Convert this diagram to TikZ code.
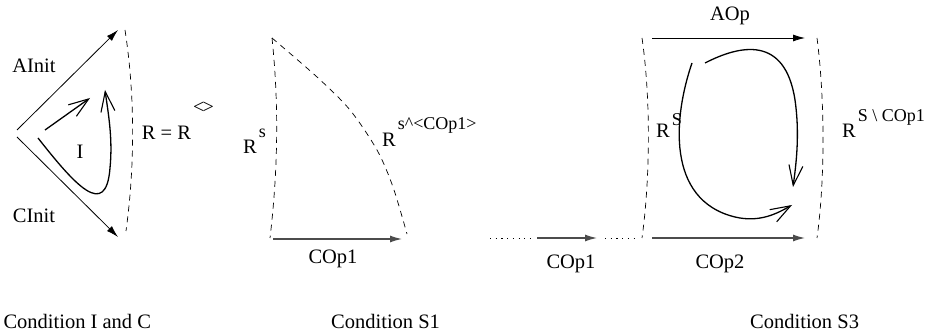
\documentclass[tikz,border=0pt]{standalone}
\usepackage{fontspec}
\setmainfont{Liberation Serif}
\usetikzlibrary{arrows.meta}
\newcommand\supr[2][16pt]{\kern2pt\raisebox{#1}{\fontsize{18}{18}\selectfont #2}}
\begin{document}
\begin{tikzpicture}[x=1pt,y=-1pt,
  every node/.style={font=\fontsize{20.5}{24}\selectfont, inner sep=0pt},
  lab/.style={anchor=base west},
  thinarrow/.style={line width=0.8pt, -{Latex[length=12pt,width=7pt]}},
  greyarrow/.style={line width=1.2pt, draw=black!70, -{Latex[length=12pt,width=7pt]}},
  border/.style={dash pattern=on 6pt off 5pt, line width=0.7pt},
  dotline/.style={line width=0.8pt, dash pattern=on 1.2pt off 4.5pt},
  loopline/.style={line width=1.3pt, -{Straight Barb[length=20pt,width=14pt,line width=1.1pt]}}]
\useasboundingbox (0,0) rectangle (933,336);

% ---------- Condition I and C ----------
\coordinate (ai0) at (17,130);
\coordinate (ai1) at (118,30);
\coordinate (ci0) at (17,137);
\coordinate (ci1) at (118,237);
\draw[thinarrow] (ai0) -- (ai1);
\draw[thinarrow] (ci0) -- (ci1);
\coordinate (b1t) at (125,30);
\coordinate (b1b) at (126,231);
\draw[border] (b1t) .. controls (135,95) and (135,165) .. (b1b);
\coordinate (sa0) at (45,130);
\coordinate (sa1) at (90,98);
\draw[loopline] (sa0) -- (sa1);
\coordinate (ic0) at (38,138);
\coordinate (icm) at (110,168);
\coordinate (ic1) at (105,90);
\draw[loopline] (ic0) .. controls (75,185) and (106,220) .. (icm)
  .. controls (113,138) and (108,112) .. (ic1);
\node (ainit) at (34,66) {AInit};
\node (cinit) at (34,216) {CInit};
\node (ilab) at (80,152) {I};
\node[lab] (req) at (141.7,140) {R = R\supr[26pt]{\fontsize{20}{20}\selectfont<\kern-1.8pt>}};
\node[lab] (cond1) at (3.3,328) {Condition I and C};

% ---------- Condition S1 ----------
\coordinate (s1t) at (272,38);
\coordinate (s1b) at (270,238);
\coordinate (s1r) at (407,234);
\draw[border] (s1t) .. controls (279,105) and (278,170) .. (s1b);
\draw[border] plot[smooth] coordinates {(272,38) (317,77) (350,110) (377,150) (393,187) (407,234)};
\coordinate (c1a) at (273,239);
\coordinate (c1b) at (402,239);
\draw[greyarrow] (c1a) -- (c1b);
\node (cop1a) at (333,259) {COp1};
\node[lab] (rs1) at (243,154) {R\supr{s}};
\node[lab] (rsc) at (382,147) {R\supr[17pt]{s\^{}<COp1>}};
\node[lab] (cond2) at (331,328) {Condition S1};

% ---------- Condition S3 ----------
\coordinate (d1a) at (490,238);
\coordinate (d1b) at (530,238);
\coordinate (c2a) at (537,238);
\coordinate (c2b) at (597,238);
\coordinate (d2a) at (605,238);
\coordinate (d2b) at (637,238);
\draw[dotline] (d1a) -- (d1b);
\draw[greyarrow] (c2a) -- (c2b);
\draw[dotline] (d2a) -- (d2b);
\node (cop1b) at (571,264) {COp1};

\coordinate (lt) at (642,38);
\coordinate (lb) at (642,238);
\coordinate (rt) at (817,38);
\coordinate (rb) at (817,238);
\draw[border] (lt) .. controls (651,100) and (650,180) .. (lb);
\draw[border] (rt) .. controls (825,100) and (825,180) .. (rb);
\coordinate (ao0) at (652,38);
\coordinate (ao1) at (805,38);
\coordinate (co0) at (652,238);
\coordinate (co1) at (805,238);
\draw[thinarrow] (ao0) -- (ao1);
\draw[greyarrow] (co0) -- (co1);
\node (aop) at (730,16) {AOp};
\node (cop2) at (720,264) {COp2};

\coordinate (l1a) at (692,63);
\coordinate (l1m) at (735,217);
\coordinate (l1b) at (792,205);
\draw[loopline] (l1a) .. controls (674,115) and (665,200) .. (l1m)
  .. controls (760,223) and (778,213) .. (l1b);
\coordinate (l2a) at (705,63);
\coordinate (l2m) at (795,100);
\coordinate (l2b) at (793,187);
\draw[loopline] (l2a) .. controls (740,45) and (785,35) .. (l2m)
  .. controls (800,135) and (796,165) .. (l2b);

\node[lab] (rs3) at (656,138) {R\supr[12pt]{S}};
\node[lab] (rsd) at (842,138) {R\supr[16pt]{S \textbackslash\ COp1}};
\node[lab] (cond3) at (750,328) {Condition S3};
\end{tikzpicture}
\end{document}
